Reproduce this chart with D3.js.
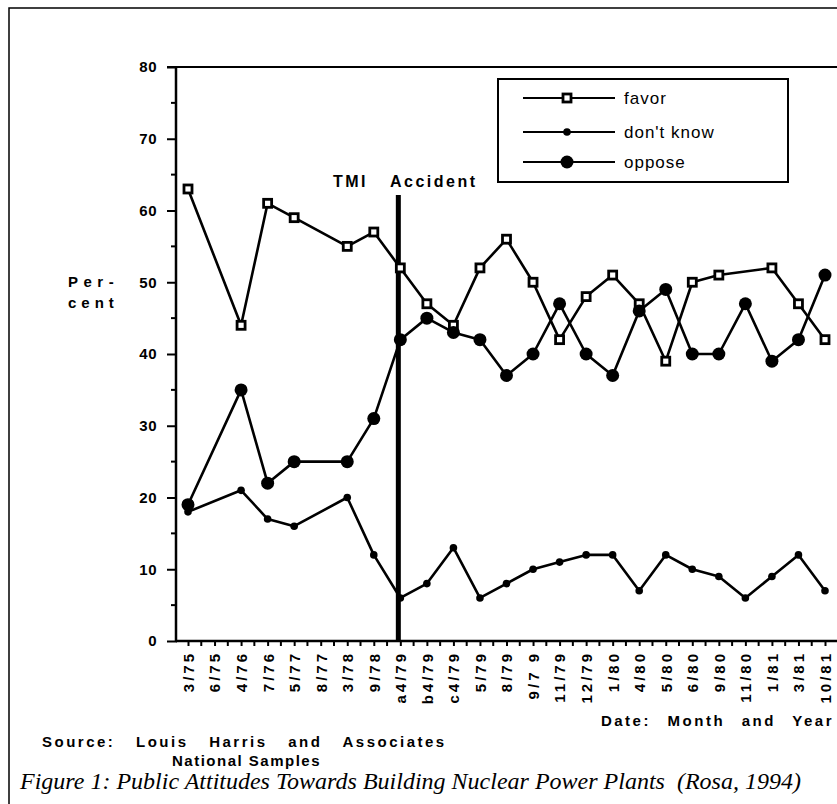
<!DOCTYPE html>
<html><head><meta charset="utf-8">
<script src="https://cdn.jsdelivr.net/npm/d3@7"></script>
<style>
html,body{margin:0;padding:0;background:#fff;}
svg text{font-family:"Liberation Sans",Arial,sans-serif;fill:#000;}
</style></head>
<body><svg id="c" width="837" height="804"></svg>
<script>
const categories = ["3/75","6/75","4/76","7/76","5/77","8/77","3/78","9/78","a4/79","b4/79","c4/79","5/79","8/79","9/7 9","11/79","12/79","1/80","4/80","5/80","6/80","9/80","11/80","1/81","3/81","10/81"];
const favor    = [63,null,44,61,59,null,55,57,52,47,44,52,56,50,42,48,51,47,39,50,51,null,52,47,42];
const dontKnow = [18,null,21,17,16,null,20,12,6,8,13,6,8,10,11,12,12,7,12,10,9,6,9,12,7];
const oppose   = [19,null,35,22,25,null,25,31,42,45,43,42,37,40,47,40,37,46,49,40,40,47,39,42,51];
const yTicks = [0,10,20,30,40,50,60,70,80];
const seriesNames = ["favor","don't know","oppose"];
const eventCategory = "a4/79";
const eventLabel = ["TMI","Accident"];

const svg = d3.select("#c");
// outer frame
svg.append("rect").attr("x",9).attr("y",8).attr("width",900).attr("height",900)
  .attr("fill","none").attr("stroke","#000").attr("stroke-width",1.5);

const x = d3.scalePoint().domain(categories).range([188,825]);
const y = d3.scaleLinear().domain([0,80]).range([641,67]);
const step = x.step();

// axes lines
svg.append("line").attr("x1",167).attr("x2",837).attr("y1",y(80)).attr("y2",y(80)).attr("stroke","#000").attr("stroke-width",2);
svg.append("line").attr("x1",176).attr("x2",176).attr("y1",y(80)).attr("y2",y(0)).attr("stroke","#000").attr("stroke-width",2.5);
svg.append("line").attr("x1",176).attr("x2",837).attr("y1",y(0)).attr("y2",y(0)).attr("stroke","#000").attr("stroke-width",2.5);

// y axis via d3
const yAxis = d3.axisLeft(y).tickValues(yTicks).tickSize(10).tickPadding(10).tickFormat(d3.format("d"));
const gy = svg.append("g").attr("transform","translate(177,0)").call(yAxis);
gy.select(".domain").remove();
gy.selectAll(".tick line").attr("stroke","#000").attr("stroke-width",2);
gy.selectAll(".tick text").style("font-size","15px").style("font-weight","bold").attr("font-family","Liberation Sans").style("letter-spacing","0.5px");
// minor y ticks
const minorY = d3.range(5,80,10);
svg.append("g").selectAll("line").data(minorY).join("line")
  .attr("x1",171).attr("x2",177).attr("y1",d=>y(d)).attr("y2",d=>y(d)).attr("stroke","#000").attr("stroke-width",2);

// x axis
const xAxis = d3.axisBottom(x).tickSize(5).tickPadding(6);
const gx = svg.append("g").attr("transform",`translate(0,${y(0)})`).call(xAxis);
gx.select(".domain").remove();
gx.selectAll(".tick line").attr("stroke","#000").attr("stroke-width",2);
gx.selectAll(".tick text")
  .attr("transform","rotate(-90)").attr("text-anchor","end")
  .attr("x",-10).attr("y",0).attr("dy","0.36em")
  .style("font-size","15px").style("font-weight","bold").style("letter-spacing","3px");
// minor x ticks
svg.append("g").selectAll("line").data(categories.slice(0,-1)).join("line")
  .attr("x1",d=>x(d)+step/2).attr("x2",d=>x(d)+step/2).attr("y1",y(0)).attr("y2",y(0)+5)
  .attr("stroke","#000").attr("stroke-width",2);

// Event line
const ex = x(eventCategory)-2;
svg.append("line").attr("x1",ex).attr("x2",ex).attr("y1",195).attr("y2",y(0))
  .attr("stroke","#000").attr("stroke-width",5);
svg.append("text").attr("x",333).attr("y",187).text(eventLabel[0])
  .style("font-size","16px").style("font-weight","bold").style("letter-spacing","2.5px");
svg.append("text").attr("x",390).attr("y",187).text(eventLabel[1])
  .style("font-size","16px").style("font-weight","bold").style("letter-spacing","2.5px");

// series
const line = d3.line().x(d=>x(d.c)).y(d=>y(d.v));
function pts(arr){ return categories.map((c,i)=>({c,v:arr[i]})).filter(d=>d.v!=null); }
const series = [
  {name:seriesNames[0], data:pts(favor), marker:"square"},
  {name:seriesNames[1], data:pts(dontKnow), marker:"dot"},
  {name:seriesNames[2], data:pts(oppose), marker:"circle"}
];
function drawMarker(g, type, cx, cy){
  if(type==="square"){
    g.append("rect").attr("x",cx-4).attr("y",cy-4).attr("width",8).attr("height",8)
      .attr("fill","#fff").attr("stroke","#000").attr("stroke-width",2.8);
  } else if(type==="dot"){
    g.append("circle").attr("cx",cx).attr("cy",cy).attr("r",3.8).attr("fill","#000");
  } else {
    g.append("circle").attr("cx",cx).attr("cy",cy).attr("r",6.5).attr("fill","#000");
  }
}
series.forEach(s=>{
  svg.append("path").datum(s.data).attr("d",line).attr("fill","none")
    .attr("stroke","#000").attr("stroke-width",2.6).attr("stroke-linejoin","round");
  const g = svg.append("g");
  s.data.forEach(d=>drawMarker(g,s.marker,x(d.c),y(d.v)));
});

// legend
svg.append("rect").attr("x",498).attr("y",79).attr("width",290).attr("height",103)
  .attr("fill","#fff").attr("stroke","#000").attr("stroke-width",2);
const legY = [98,132,162];
series.forEach((s,i)=>{
  const g = svg.append("g");
  g.append("line").attr("x1",523).attr("x2",615).attr("y1",legY[i]).attr("y2",legY[i])
    .attr("stroke","#000").attr("stroke-width",2.2);
  drawMarker(g,s.marker,567,legY[i]);
  g.append("text").attr("x",624).attr("y",legY[i]).attr("dy","0.35em").text(s.name)
    .style("font-size","17px").style("letter-spacing","1px");
});

// y title
svg.append("text").attr("x",68).attr("y",287).text("Per-")
  .style("font-size","15px").style("font-weight","bold").style("letter-spacing","5.5px");
svg.append("text").attr("x",68).attr("y",308).text("cent")
  .style("font-size","15px").style("font-weight","bold").style("letter-spacing","5px");

// x title
svg.append("text").attr("x",834).attr("y",726).attr("text-anchor","end").text("Date: Month and Year")
  .style("font-size","15px").style("font-weight","bold").style("letter-spacing","2.5px").style("word-spacing","10px");

// source
svg.append("text").attr("x",42).attr("y",747).text("Source: Louis Harris and Associates")
  .style("font-size","15px").style("font-weight","bold").style("letter-spacing","2.5px").style("word-spacing","14px");
svg.append("text").attr("x",172).attr("y",766).text("National Samples")
  .style("font-size","15px").style("font-weight","bold").style("letter-spacing","1.5px");

// caption
svg.append("text").attr("x",20).attr("y",789).text("Figure 1: Public Attitudes Towards Building Nuclear Power Plants  (Rosa, 1994)")
  .style("font-family","'Liberation Serif','Times New Roman',serif").style("font-style","italic")
  .style("font-size","24px").style("white-space","pre");
</script></body></html>
